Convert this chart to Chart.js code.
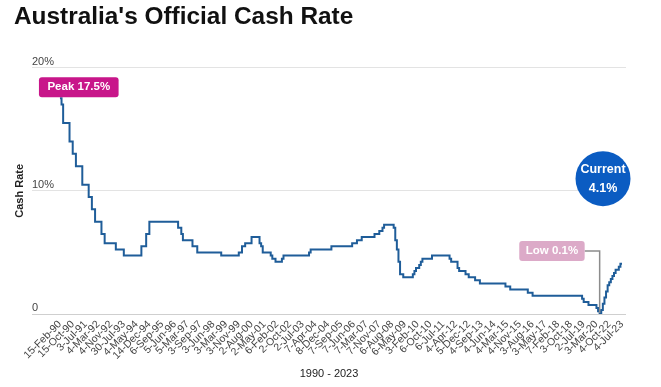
<!DOCTYPE html>
<html>
<head>
<meta charset="utf-8">
<title>Australia's Official Cash Rate</title>
<script src="https://cdn.jsdelivr.net/npm/chart.js@4.4.1/dist/chart.umd.min.js"></script>
<style>
  html, body { margin: 0; padding: 0; background: #fff; }
  #wrap { width: 661px; height: 387px; position: relative; }
</style>
</head>
<body>
<div id="wrap"><canvas id="rateChart"></canvas></div>
<script>
// meeting number (0 = 15-Feb-90) at which the cash rate was changed
const changeAt = [
  0, 1, 2, 6, 8, 10, 14, 18, 20, 22, 26, 28, 35, 40,
  51, 54, 56, 74, 76, 77, 83, 86, 101,
  112, 114, 116, 120, 125, 126, 127, 132, 133, 135, 139, 140,
  156, 157, 170, 183, 186, 189, 197, 200, 202, 203,
  209, 210, 211, 212, 213, 215, 221, 222, 223, 225, 226, 227, 233,
  244, 245, 249, 250, 254, 256, 260, 263, 279, 282, 293, 296,
  327, 328, 331, 336, 337, 338, 339, 340, 341, 342, 343, 344,
  345, 346, 347, 348, 350, 351, 352
];
// new cash rate (%) from that meeting on
const rates = [
  17.5, 17.0, 15.5, 14.0, 13.0, 12.0, 10.5, 9.5, 8.5, 7.5, 6.5, 5.75, 5.25, 4.75,
  5.5, 6.5, 7.5, 7.0, 6.5, 6.0, 5.5, 5.0, 4.75,
  5.0, 5.5, 5.75, 6.25, 5.75, 5.5, 5.0, 4.75, 4.5, 4.25, 4.5, 4.75,
  5.0, 5.25, 5.5, 5.75, 6.0, 6.25, 6.5, 6.75, 7.0, 7.25,
  7.0, 6.0, 5.25, 4.25, 3.25, 3.0, 3.25, 3.5, 3.75, 4.0, 4.25, 4.5, 4.75,
  4.5, 4.25, 3.75, 3.5, 3.25, 3.0, 2.75, 2.5, 2.25, 2.0, 1.75, 1.5,
  1.25, 1.0, 0.75, 0.5, 0.25, 0.1, 0.35, 0.85, 1.35, 1.85, 2.35, 2.6,
  2.85, 3.1, 3.35, 3.6, 3.85, 4.1, 4.1
];
// x axis labels, one every 8 meetings
const tickLabels = [
  '15-Feb-90', '15-Oct-90', '3-Jul-91', '4-Mar-92', '4-Nov-92', '30-Jul-93',
  '4-May-94', '14-Dec-94', '6-Sep-95', '5-Jun-96', '5-Mar-97', '3-Sep-97',
  '3-Jun-98', '3-Mar-99', '3-Nov-99', '2-Aug-00', '2-May-01', '6-Feb-02',
  '2-Oct-02', '2-Jul-03', '7-Apr-04', '8-Dec-04', '7-Sep-05', '7-Jun-06',
  '7-Mar-07', '7-Nov-07', '6-Aug-08', '6-May-09', '3-Feb-10', '6-Oct-10',
  '6-Jul-11', '4-Apr-12', '5-Dec-12', '4-Sep-13', '4-Jun-14', '4-Mar-15',
  '4-Nov-15', '3-Aug-16', '3-May-17', '7-Feb-18', '3-Oct-18', '2-Jul-19',
  '3-Mar-20', '4-Oct-22', '4-Jul-23'
];
const meetingsPerTick = 8;
const yTicks = [0, 10, 20];
const yTickLabels = ['0', '10%', '20%'];

const FONT = "'Liberation Sans', Arial, sans-serif";
Chart.defaults.font.family = FONT;

function pill(ctx, x, y, w, h, color) {
  ctx.fillStyle = color;
  ctx.beginPath();
  ctx.roundRect(x, y, w, h, 3);
  ctx.fill();
}

// peak / low / current callouts
const callouts = {
  id: 'callouts',
  afterDatasetsDraw(chart) {
    const ctx = chart.ctx;
    const pts = chart.getDatasetMeta(0).data;
    const hi = rates.indexOf(Math.max(...rates));
    const lo = rates.indexOf(Math.min(...rates));
    const last = rates.length - 1;
    ctx.save();
    ctx.textAlign = 'center';
    ctx.textBaseline = 'middle';
    ctx.font = 'bold 11.5px ' + FONT;

    const p = pts[hi];
    let txt = 'Peak ' + rates[hi] + '%';
    let w = ctx.measureText(txt).width + 17;
    pill(ctx, p.x - 21, p.y - 21, w, 20, '#c8168a');
    ctx.fillStyle = '#fff';
    ctx.fillText(txt, p.x - 21 + w / 2, p.y - 11);

    const l = pts[lo];
    txt = 'Low ' + rates[lo] + '%';
    w = ctx.measureText(txt).width + 13;
    const by = l.y - 62;
    ctx.strokeStyle = '#8c8c8c';
    ctx.lineWidth = 1.5;
    ctx.beginPath();
    ctx.moveTo(l.x - 15, by);
    ctx.lineTo(l.x, by);
    ctx.lineTo(l.x, l.y);
    ctx.stroke();
    pill(ctx, l.x - 15 - w, by - 10, w, 20, '#dcaac8');
    ctx.fillStyle = '#fff';
    ctx.fillText(txt, l.x - 15 - w / 2, by);

    const c = pts[last];
    const cx = c.x - 19, cy = c.y - 85;
    ctx.fillStyle = '#0b5cc2';
    ctx.beginPath();
    ctx.arc(cx, cy, 27.5, 0, Math.PI * 2);
    ctx.fill();
    ctx.fillStyle = '#fff';
    ctx.font = 'bold 12.5px ' + FONT;
    ctx.fillText('Current', cx, cy - 9);
    ctx.fillText(rates[last] + '%', cx, cy + 10);
    ctx.restore();
  }
};

window.addEventListener('DOMContentLoaded', () => {
  const ctx = document.getElementById('rateChart').getContext('2d');
  new Chart(ctx, {
    type: 'line',
    data: {
      datasets: [{
        label: 'Cash Rate',
        data: changeAt.map((m, i) => ({ x: m, y: rates[i] })),
        borderColor: '#1f5d99',
        borderWidth: 2,
        pointRadius: 0,
        stepped: true,
        fill: false
      }]
    },
    options: {
      responsive: true,
      maintainAspectRatio: false,
      animation: false,
      layout: { padding: { left: 14, right: 35, top: 0, bottom: 2 } },
      plugins: {
        legend: { display: false },
        tooltip: { enabled: false },
        title: {
          display: true,
          text: "Australia's Official Cash Rate",
          align: 'start',
          color: '#111',
          font: { size: 24.4, weight: 'bold' },
          padding: { top: 3, bottom: 35.2 }
        }
      },
      scales: {
        x: {
          type: 'linear',
          min: -17.5,
          max: 354.5,
          afterBuildTicks: (scale) => {
            scale.ticks = tickLabels.map((_, i) => ({ value: i * meetingsPerTick }));
          },
          grid: { display: false, drawTicks: false },
          border: { display: false },
          ticks: {
            autoSkip: false,
            minRotation: 45,
            maxRotation: 45,
            padding: 4,
            color: '#444',
            font: { size: 10.5 },
            callback: (v, i) => tickLabels[i]
          },
          title: {
            display: true,
            text: '1990 - 2023',
            color: '#222',
            font: { size: 11 },
            padding: { top: 2, bottom: 4 }
          }
        },
        y: {
          min: 0,
          max: 20,
          afterBuildTicks: (scale) => {
            scale.ticks = yTicks.map(v => ({ value: v }));
          },
          grid: {
            drawTicks: false,
            color: (c) => c.tick && c.tick.value === 0 ? '#cfcfcf' : '#e3e3e3'
          },
          border: { display: false },
          ticks: {
            mirror: true,
            padding: 0,
            labelOffset: -6,
            color: '#444',
            font: { size: 11 },
            callback: (v, i) => yTickLabels[i]
          },
          title: {
            display: true,
            text: 'Cash Rate',
            color: '#222',
            font: { size: 11, weight: 'bold' },
            padding: { top: -1, bottom: 5.8 }
          }
        }
      }
    },
    plugins: [callouts]
  });
});
</script>
</body>
</html>
